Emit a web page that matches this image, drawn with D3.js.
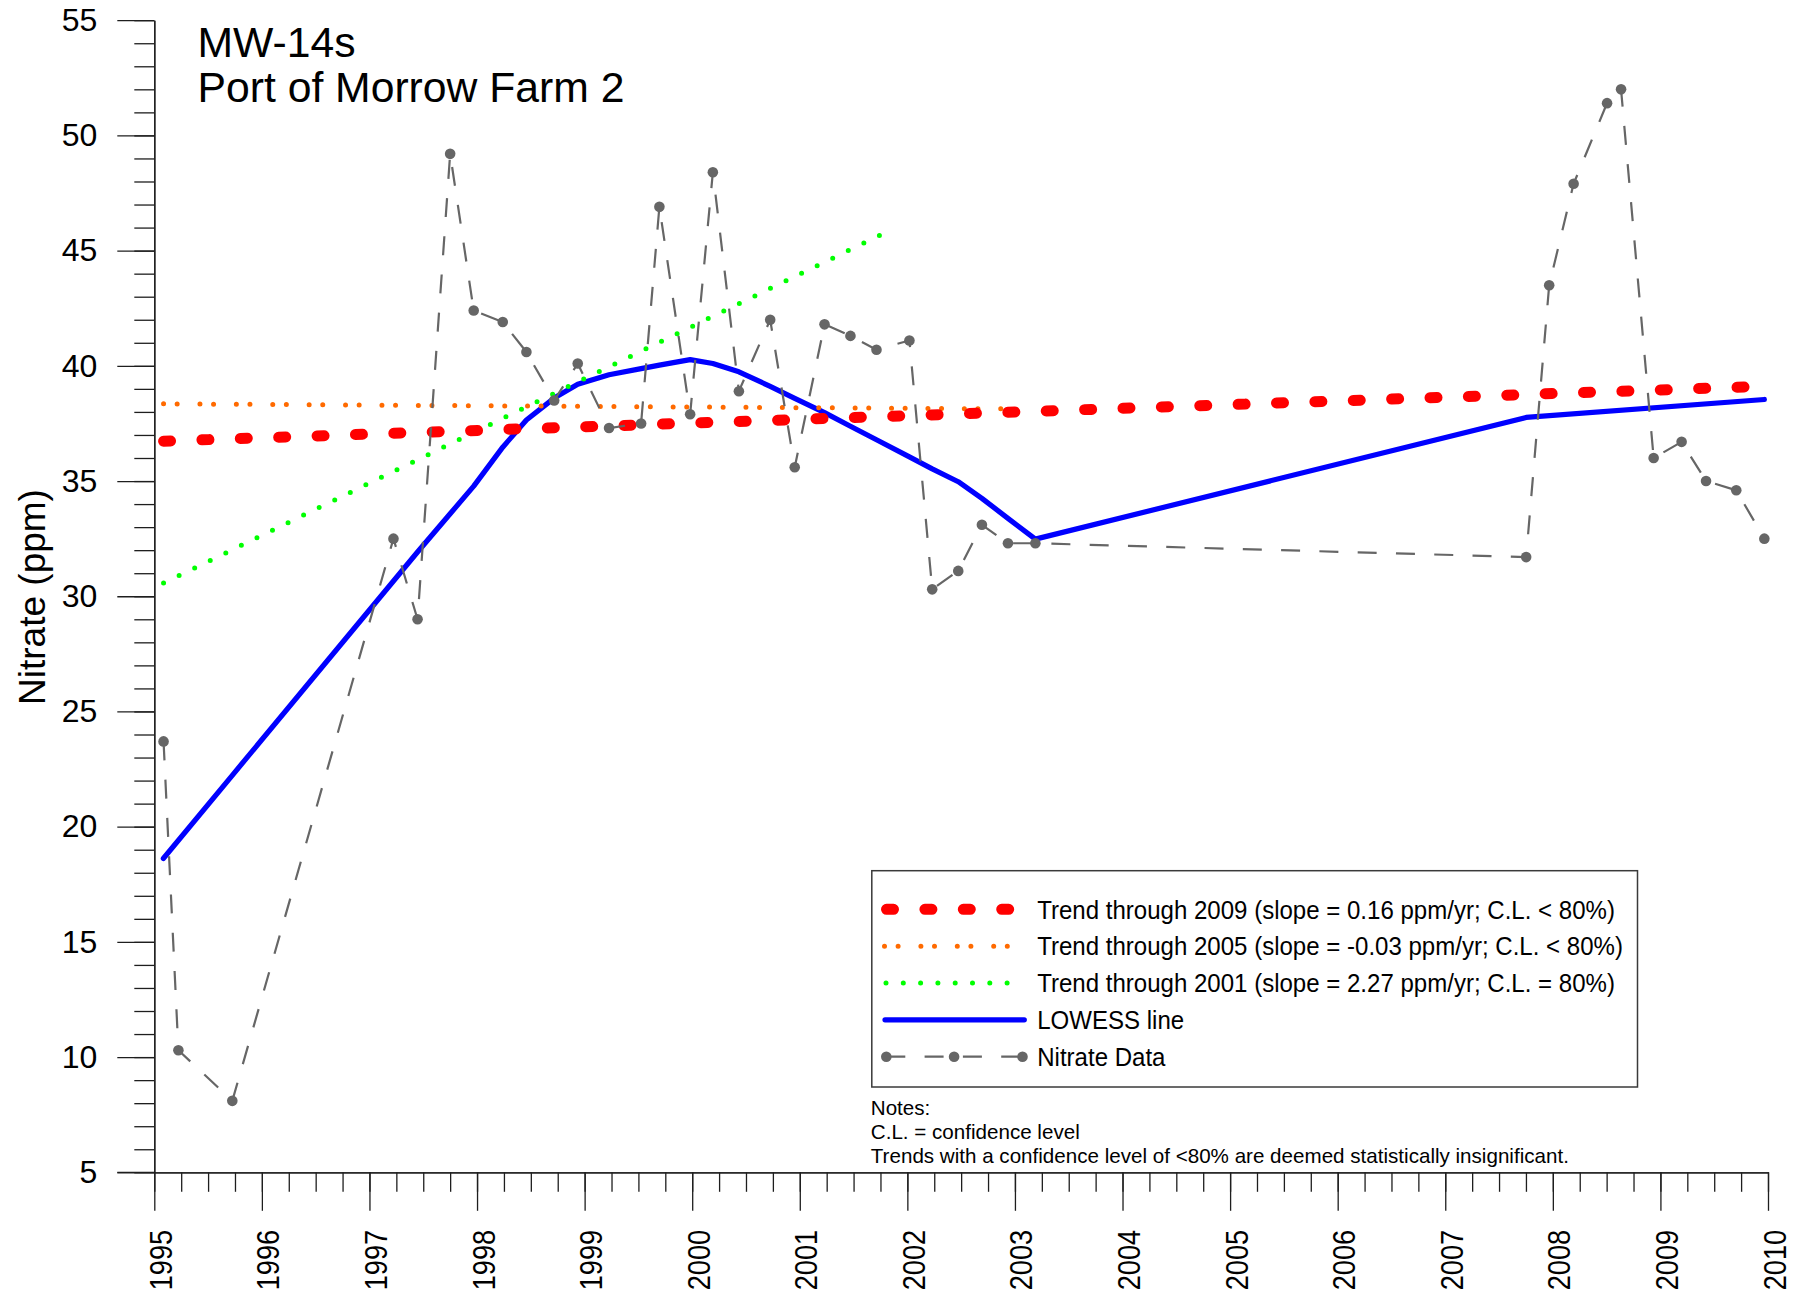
<!DOCTYPE html>
<html><head><meta charset="utf-8">
<script src="https://cdn.jsdelivr.net/npm/d3@7"></script>
<style>
html,body{margin:0;padding:0;background:#fff;}
svg{display:block;font-family:"Liberation Sans",Arial,Helvetica,sans-serif;}
</style></head><body>
<svg id="chart" width="1799" height="1295"></svg>
<script>
// ---------------- DATA ----------------
const titleLines = ["MW-14s", "Port of Morrow Farm 2"];
const yAxisTitle = "Nitrate (ppm)";
const yearLabels = ["1995","1996","1997","1998","1999","2000","2001","2002","2003","2004","2005","2006","2007","2008","2009","2010"];
const yTickValues = [5,10,15,20,25,30,35,40,45,50,55];

// Nitrate samples (decimal year, ppm)
const sampleTimes = [1995.086,1995.224,1995.725,1997.223,1997.447,1997.750,1997.969,1998.239,1998.459,1998.717,
  1998.936,1999.227,1999.525,1999.695,1999.981,2000.192,2000.434,2000.725,2000.953,2001.230,
  2001.471,2001.713,2002.019,2002.231,2002.473,2002.693,2002.935,2003.190,2007.752,2007.966,
  2008.193,2008.504,2008.634,2008.937,2009.197,2009.424,2009.705,2009.966];
const nitrateValues = [23.7,10.3,8.1,32.5,29.0,49.2,42.4,41.9,40.6,38.5,
  40.1,37.3,37.5,46.9,37.9,48.4,38.9,42.0,35.6,41.8,
  41.3,40.7,41.1,30.3,31.1,33.1,32.3,32.3,31.7,43.5,
  47.9,51.4,52.0,36.0,36.7,35.0,34.6,32.5];

// LOWESS line vertices (decimal year, ppm)
const lowessTimes = [1995.084,1995.725,1997.447,1997.750,1997.969,1998.239,1998.459,1998.717,1998.936,1999.227,
  1999.525,1999.695,1999.981,2000.192,2000.434,2000.725,2000.953,2001.230,2001.471,2001.713,
  2002.019,2002.231,2002.473,2002.693,2002.935,2003.190,2007.752,2009.966];
const lowessValues = [18.62,22.23,31.92,33.58,34.78,36.47,37.65,38.60,39.20,39.61,
  39.88,40.03,40.27,40.10,39.74,39.11,38.59,37.97,37.38,36.79,
  36.05,35.53,34.97,34.25,33.38,32.48,37.76,38.54];

// Trend lines: [start, end] as [decimal year, ppm]
const trend2009 = [[1995.086, 36.73], [2009.966, 39.11]];
const trend2005 = [[1995.086, 38.35], [2002.945, 38.13]];
const trend2001 = [[1995.086, 30.57], [2001.750, 45.68]];

const legendLabels = [
  "Trend through 2009 (slope = 0.16 ppm/yr; C.L. < 80%)",
  "Trend through 2005 (slope = -0.03 ppm/yr; C.L. < 80%)",
  "Trend through 2001 (slope = 2.27 ppm/yr; C.L. = 80%)",
  "LOWESS line",
  "Nitrate Data"
];
const noteLines = [
  "Notes:",
  "C.L. = confidence level",
  "Trends with a confidence level of <80% are deemed statistically insignificant."
];

// ---------------- STYLES ----------------
const sRed    = {stroke:"#ff0000", width:11,  dash:"7,31.4",        cap:"round"};
const sOrange = {stroke:"#ff6a00", width:5,   dash:"0,13.6,0,22.8", cap:"round"};
const sGreen  = {stroke:"#00ff00", width:5,   dash:"0,17.3",        cap:"round"};
const sBlue   = {stroke:"#0000ff", width:5.2, dash:null,            cap:"round"};
const sGray   = {stroke:"#666666", width:2.2, dash:"19,19.3",       cap:"butt"};
const font = '"Liberation Sans",Arial,Helvetica,sans-serif';

// ---------------- CHART ----------------
const svg = d3.select("#chart");
svg.append("rect").attr("width",1799).attr("height",1295).attr("fill","#fff");

const x = d3.scaleLinear().domain([1995, 2010]).range([154.3, 1768]);
const y = d3.scaleLinear().domain([5, 55]).range([1172.3, 20.2]);

function styleAxis(g){
  g.selectAll("path,line").attr("stroke","#1e1e1e").attr("stroke-width",1.3);
}

// Y axis: minor ticks
const yMinor = d3.range(5, 55.001, 1);
svg.append("g").attr("transform","translate(154.3,0)")
  .call(d3.axisLeft(y).tickValues(yMinor).tickSize(20).tickSizeOuter(0).tickFormat(""))
  .call(styleAxis);
// Y axis: major ticks + labels
svg.append("g").attr("transform","translate(154.3,0)")
  .call(d3.axisLeft(y).tickValues(yTickValues).tickSize(37).tickSizeOuter(0).tickPadding(20).tickFormat(d3.format("d")))
  .call(styleAxis)
  .call(g => g.selectAll("text").attr("font-size",32).attr("font-family",font).attr("fill","#000"));

// X axis: minor (quarterly) ticks
const xMinor = d3.range(1995, 2010.001, 0.25);
svg.append("g").attr("transform","translate(0,1172.3)")
  .call(d3.axisBottom(x).tickValues(xMinor).tickSize(19.5).tickSizeOuter(0).tickFormat(""))
  .call(styleAxis);
// X axis: major (yearly) ticks + rotated labels
svg.append("g").attr("transform","translate(0,1172.3)")
  .call(d3.axisBottom(x).tickValues(yearLabels.map(Number)).tickSize(38.5).tickSizeOuter(0)
        .tickFormat((d,i) => yearLabels[i]))
  .call(styleAxis)
  .call(g => g.selectAll("text")
      .attr("x",0).attr("y",0).attr("dy",0)
      .attr("text-anchor","end")
      .attr("transform","translate(17,57.5) rotate(-90) scale(0.85,1)")
      .attr("font-size",32).attr("font-family",font).attr("fill","#000"));
// extend the x-axis line left to the y=5 tick
svg.append("line").attr("x1",117.3).attr("x2",154.3).attr("y1",y(5)).attr("y2",y(5))
  .attr("stroke","#1e1e1e").attr("stroke-width",1.3);

// Axis title
svg.append("text").attr("transform","translate(44.6,597) rotate(-90)")
  .attr("text-anchor","middle").attr("font-size",37).attr("fill","#000").text(yAxisTitle);

// Chart title
svg.selectAll("text.title").data(titleLines).enter().append("text")
  .attr("class","title").attr("x",197.5).attr("y",(d,i)=> i===0 ? 57.3 : 101.7)
  .attr("font-size",42.7).attr("fill","#000").text(d=>d);

// ---------------- SERIES ----------------
const line = d3.line().x(d => x(d[0])).y(d => y(d[1]));
function drawPath(g, pts, s, gen){
  const p = g.append("path").attr("d",(gen||line)(pts)).attr("fill","none")
    .attr("stroke",s.stroke).attr("stroke-width",s.width)
    .attr("stroke-linecap",s.cap).attr("stroke-linejoin","round");
  if (s.dash) p.attr("stroke-dasharray",s.dash);
  return p;
}
const plot = svg.append("g");
const lowessPts = lowessTimes.map((t,i)=>[t, lowessValues[i]]);
drawPath(plot, lowessPts, sBlue);
drawPath(plot, trend2001, sGreen);
drawPath(plot, trend2005, sOrange);
drawPath(plot, trend2009, sRed);
const dataPts = sampleTimes.map((t,i)=>[t, nitrateValues[i]]);
drawPath(plot, dataPts, sGray);
plot.selectAll("circle.pt").data(dataPts).enter().append("circle").attr("class","pt")
  .attr("cx",d=>x(d[0])).attr("cy",d=>y(d[1])).attr("r",5.3).attr("fill","#666666");

// ---------------- LEGEND ----------------
const lg = svg.append("g");
lg.append("rect").attr("x",871.8).attr("y",870.7).attr("width",765.7).attr("height",216.3)
  .attr("fill","#fff").attr("stroke","#3a3a3a").attr("stroke-width",1.5);
const rowY = i => 909.3 + i*36.85;
const pxLine = d3.line();
const legendSamples = [
  {s:sRed,    x0:886.5, x1:1025},
  {s:sOrange, x0:884.5, x1:1010},
  {s:sGreen,  x0:886,   x1:1008},
  {s:sBlue,   x0:885,   x1:1024.3},
  {s:sGray,   x0:886.3, x1:1022.5}
];
legendSamples.forEach((d,i)=>{
  drawPath(lg, [[d.x0,rowY(i)],[d.x1,rowY(i)]], d.s, pxLine);
});
[886.3, 954.1, 1022.5].forEach(cx => lg.append("circle").attr("cx",cx).attr("cy",rowY(4)).attr("r",5.3).attr("fill","#666666"));
lg.selectAll("text.lg").data(legendLabels).enter().append("text").attr("class","lg")
  .attr("transform",(d,i)=>`translate(1037.2,${rowY(i)+9.3}) scale(0.925,1)`)
  .attr("font-size",26).attr("fill","#000").text(d=>d);

// Notes
svg.selectAll("text.note").data(noteLines).enter().append("text").attr("class","note")
  .attr("x",870.8).attr("y",(d,i)=>1115 + i*24.2)
  .attr("font-size",20.6).attr("fill","#000").text(d=>d);
</script>
</body></html>
